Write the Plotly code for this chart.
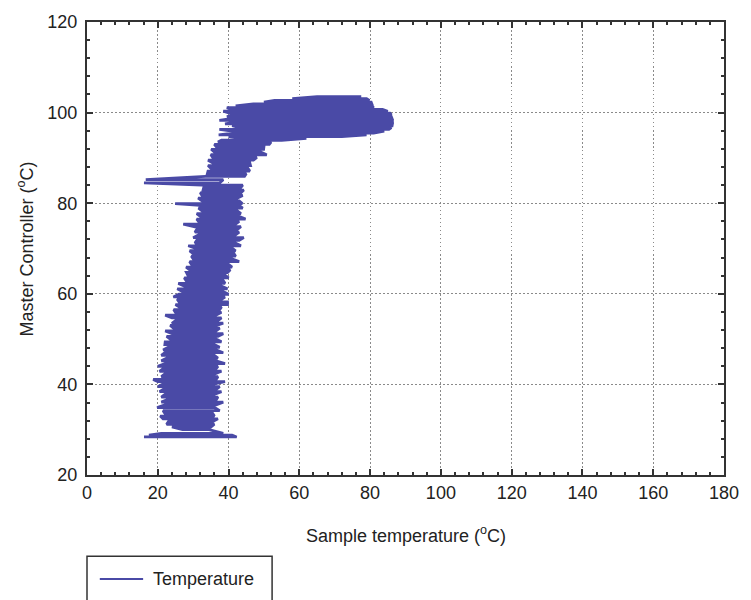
import plotly.graph_objects as go

# Each sweep of the recorder: master controller level (degC) and the
# lowest / highest sample temperature (degC) reached along that sweep.
master_level = [
    28.4, 28.8, 29.2, 30.0, 30.6, 31.2, 31.8, 32.4, 33.0, 33.6,
    34.2, 34.9, 35.5, 36.1, 36.6, 37.2, 37.8, 38.4, 38.9, 39.5,
    40.1, 40.6, 41.1, 41.7, 42.3, 42.9, 43.5, 44.0, 44.6, 45.2,
    45.8, 46.4, 47.0, 47.6, 48.2, 48.8, 49.4, 50.0, 50.6, 51.2,
    51.8, 52.4, 53.0, 53.5, 54.1, 54.7, 55.3, 55.9, 56.5, 57.1,
    57.6, 58.2, 58.8, 59.3, 59.9, 60.5, 61.1, 61.7, 62.3, 62.9,
    63.5, 64.1, 64.7, 65.3, 65.9, 66.5, 67.1, 67.7, 68.3, 68.9,
    69.5, 70.1, 70.6, 71.2, 71.8, 72.4, 73.0, 73.6, 74.2, 74.8,
    75.4, 76.0, 76.5, 77.1, 77.7, 78.3, 78.9, 79.5, 79.9, 80.5,
    81.1, 81.7, 82.3, 82.9, 83.5, 84.0, 84.5, 85.2, 85.9, 86.5,
    87.1, 87.7, 88.3, 88.9, 89.5, 90.1, 90.7, 91.3, 91.9, 92.5,
    93.0, 93.5, 93.9, 94.3, 94.7, 95.1, 95.5, 95.9, 96.3, 96.7,
    97.1, 97.5, 97.9, 98.3, 98.7, 99.1, 99.5, 99.9, 100.3, 100.7,
    101.1, 101.5, 101.9, 102.3, 102.7, 103.1, 103.5,
]
sample_min = [
    16.1, 17.5, 21.0, 27.0, 24.0, 22.5, 23.0, 21.5, 20.7, 22.0,
    21.5, 19.8, 22.0, 21.0, 22.5, 21.0, 22.0, 20.5, 21.5, 20.0,
    21.5, 20.0, 18.7, 21.0, 22.0, 20.5, 21.5, 20.0, 22.0, 21.0,
    22.5, 21.0, 22.0, 21.5, 23.0, 22.0, 22.1, 23.5, 22.5, 24.0,
    22.1, 24.5, 23.5, 24.0, 25.0, 24.0, 22.1, 25.0, 24.5, 26.0,
    25.0, 26.0, 25.5, 24.4, 26.0, 27.0, 25.5, 27.5, 25.8, 28.0,
    27.5, 28.5, 28.1, 29.0, 28.0, 29.5, 29.0, 30.0, 29.5, 30.0,
    29.0, 30.5, 28.6, 30.5, 31.0, 30.0, 31.5, 30.5, 31.0, 30.5,
    27.2, 31.5, 31.0, 32.0, 31.0, 32.5, 31.5, 32.0, 24.9, 32.5,
    31.4, 32.5, 32.0, 32.8, 33.0, 32.5, 16.1, 16.6, 33.5, 34.0,
    34.2, 35.0, 34.2, 35.5, 34.2, 35.5, 35.0, 36.0, 35.1, 36.5,
    36.0, 37.0, 38.0, 44.0, 40.0, 37.2, 42.0, 41.0, 37.4, 43.0,
    41.0, 39.0, 42.0, 37.4, 41.0, 39.5, 42.0, 40.2, 38.5, 41.0,
    39.5, 42.0, 47.0, 50.0, 53.0, 58.0, 65.0,
]
sample_max = [
    42.3, 41.0, 38.5, 34.5, 35.0, 36.0, 35.5, 37.0, 36.0, 35.5,
    37.5, 36.0, 36.5, 38.5, 36.5, 37.0, 36.0, 38.0, 36.5, 37.5,
    36.0, 39.0, 36.5, 37.0, 36.0, 38.0, 36.5, 37.0, 39.0, 36.5,
    37.0, 36.0, 38.5, 36.5, 37.5, 36.0, 38.0, 36.5, 37.0, 38.5,
    36.5, 37.5, 36.5, 38.5, 37.0, 38.0, 36.5, 38.0, 37.5, 38.0,
    39.7, 39.7, 38.0, 39.0, 40.0, 38.5, 39.7, 38.0, 39.0, 38.5,
    40.0, 39.0, 39.7, 40.5, 41.0, 40.0, 43.0, 41.0, 42.0, 41.5,
    42.0, 41.0, 43.5, 42.0, 43.0, 44.3, 42.0, 43.0, 42.5, 43.5,
    42.0, 43.0, 44.8, 43.0, 43.5, 42.5, 44.0, 43.0, 43.9, 43.0,
    42.5, 44.0, 43.5, 44.3, 43.5, 44.0, 37.5, 38.5, 44.5, 45.0,
    46.0, 45.5, 46.2, 46.0, 47.0, 48.0, 50.8, 49.0, 49.9, 50.0,
    51.5, 52.0, 55.0, 62.0, 72.0, 79.0, 81.0, 84.0, 85.3, 86.0,
    86.2, 86.3, 86.3, 86.3, 86.2, 86.0, 86.0, 85.6, 85.0, 83.5,
    81.0, 80.5, 80.5, 80.3, 79.8, 79.0, 77.5,
]

x_ticks = [0, 20, 40, 60, 80, 100, 120, 140, 160, 180]
y_ticks = [20, 40, 60, 80, 100, 120]

LINE_COLOR = "#4a4aa6"
AXIS_COLOR = "#333333"
TEXT_COLOR = "#222222"
FONT = "Liberation Sans, Arial, sans-serif"

# Chain the sweeps into one continuous record, alternating direction
sample_temp, master_temp = [], []
for i, (lvl, lo, hi) in enumerate(zip(master_level, sample_min, sample_max)):
    ends = (lo, hi) if i % 2 == 0 else (hi, lo)
    sample_temp.extend(ends)
    master_temp.extend([lvl, lvl])

fig = go.Figure()
fig.add_trace(go.Scatter(
    x=sample_temp, y=master_temp, mode="lines", name="Temperature",
    line=dict(color=LINE_COLOR, width=2.8), showlegend=False,
))

axis_common = dict(
    showline=True, linecolor=AXIS_COLOR, linewidth=2, mirror="ticks",
    ticks="inside", ticklen=6, tickwidth=1.5, tickcolor=AXIS_COLOR,
    showgrid=True, gridcolor="#8a8a8a", gridwidth=1, griddash="1.5px,2.5px",
    zeroline=False,
    tickfont=dict(family=FONT, size=18, color=TEXT_COLOR),
    minor=dict(dtick=4, ticks="inside", ticklen=3, tickcolor=AXIS_COLOR,
               showgrid=False),
)

fig.update_xaxes(range=[0, 180], tickvals=x_ticks, **axis_common)
fig.update_yaxes(range=[20, 120], tickvals=y_ticks, ticklabelstandoff=4,
                 **axis_common)

W, H = 751, 600
L, R, T, B = 87, 17, 18, 125
pw, ph = W - L - R, H - T - B


def px(xp):
    return (xp - L) / pw


def py(yp):
    return (H - B - yp) / ph


annotations = [
    dict(text="Sample temperature (<sup>o</sup>C)", x=0.5, y=py(535),
         xref="paper", yref="paper", showarrow=False,
         xanchor="center", yanchor="middle",
         font=dict(family=FONT, size=18, color=TEXT_COLOR)),
    dict(text="Master Controller (<sup>o</sup>C)", x=px(25), y=0.5,
         xref="paper", yref="paper", showarrow=False, textangle=-90,
         xanchor="center", yanchor="middle",
         font=dict(family=FONT, size=18, color=TEXT_COLOR)),
    dict(text="Temperature", x=px(152), y=py(580),
         xref="paper", yref="paper", showarrow=False,
         xanchor="left", yanchor="middle",
         font=dict(family=FONT, size=18, color=TEXT_COLOR)),
]

shapes = [
    # legend frame and line sample
    dict(type="rect", xref="paper", yref="paper",
         x0=px(87), x1=px(275), y0=py(557), y1=py(612),
         line=dict(color=AXIS_COLOR, width=1.5), fillcolor="white"),
    dict(type="line", xref="paper", yref="paper",
         x0=px(100), x1=px(144), y0=py(580), y1=py(580),
         line=dict(color=LINE_COLOR, width=2)),
]

fig.update_layout(
    width=W, height=H,
    margin=dict(l=L, r=R, t=T, b=B),
    paper_bgcolor="white", plot_bgcolor="white",
    annotations=annotations, shapes=shapes,
    showlegend=False,
)

fig.write_html("out.html")
